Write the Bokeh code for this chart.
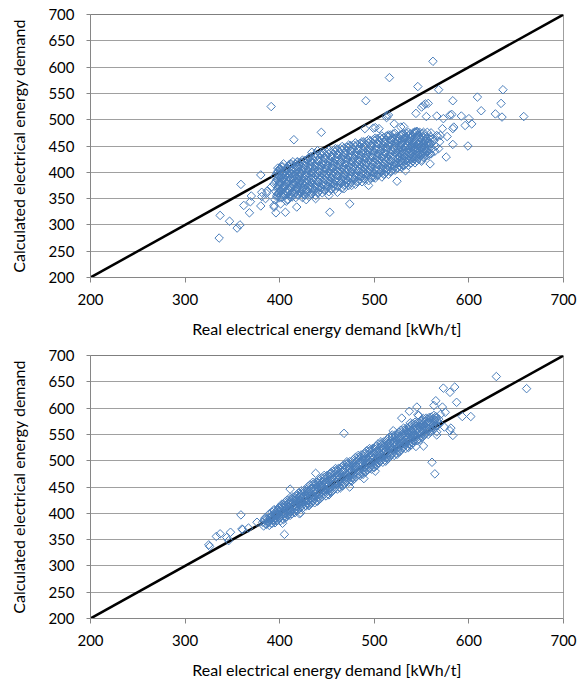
import math
from bokeh.plotting import figure
from bokeh.layouts import column
from bokeh.models import Range1d, FixedTicker, Span
from bokeh.embed import file_html
from bokeh.resources import INLINE

x_ticks = [200, 300, 400, 500, 600, 700]
y_ticks = [200, 250, 300, 350, 400, 450, 500, 550, 600, 650, 700]
identity_line = [200, 700]
x_title = "Real electrical energy demand [kWh/t]"
y_title = "Calculated electrical energy demand"

# ---------- upper panel: dense core ----------
top_core_x = [
    395, 397, 396, 398, 394, 397, 395, 398,
    400, 399, 401, 398, 400, 401, 399, 400,
    402, 404, 403, 405, 402, 404, 403, 401,
    406, 407, 405, 408, 407, 406, 405, 408,
    409, 411, 410, 412, 409, 410, 411, 409,
    413, 414, 412, 415, 414, 413, 415, 412,
    417, 416, 418, 417, 419, 416, 418, 417,
    420, 421, 419, 422, 420, 421, 419, 422,
    424, 423, 425, 424, 426, 423, 425, 424,
    427, 428, 426, 429, 427, 428, 426, 429,
    431, 430, 432, 431, 433, 430, 432, 431,
    434, 435, 433, 436, 434, 435, 433, 436,
    438, 437, 439, 438, 440, 437, 439, 438,
    441, 442, 440, 443, 441, 442, 440, 443,
    445, 444, 446, 445, 447, 444, 446, 445,
    448, 449, 447, 450, 448, 449, 447, 450,
    452, 451, 453, 452, 454, 451, 453, 452,
    455, 456, 454, 457, 455, 456, 454, 457,
    459, 458, 460, 459, 461, 458, 460, 459,
    462, 463, 461, 464, 462, 463, 461, 464,
    466, 465, 467, 466, 468, 465, 467, 466,
    469, 470, 468, 471, 469, 470, 468, 471,
    473, 472, 474, 473, 475, 472, 474, 473,
    476, 477, 475, 478, 476, 477, 475, 478,
    480, 479, 481, 480, 482, 479, 481, 480,
    483, 484, 482, 485, 483, 484, 482, 485,
    487, 486, 488, 487, 489, 486, 488, 487,
    490, 491, 489, 492, 490, 491, 489, 492,
    494, 493, 495, 494, 496, 493, 495, 494,
    497, 498, 496, 499, 497, 498, 496, 499,
    501, 500, 502, 501, 503, 500, 502, 501,
    504, 505, 503, 506, 504, 505, 503, 506,
    508, 507, 509, 508, 510, 507, 509, 508,
    511, 512, 510, 513, 511, 512, 510, 513,
    515, 514, 516, 515, 517, 514, 516, 515,
    518, 519, 517, 520, 518, 519, 517, 520,
    522, 521, 523, 522, 524, 521, 523, 522,
    525, 526, 524, 527, 525, 526, 524, 527,
    529, 528, 530, 529, 531, 528, 530, 529,
    532, 533, 531, 534, 532, 533, 531, 534,
    536, 535, 537, 536, 538, 535, 537, 536,
    539, 540, 538, 541, 539, 540, 538, 541,
    543, 542, 544, 543, 545, 542, 544, 543,
    546, 547, 545, 548, 546, 547, 545, 548,
    550, 549, 551, 550, 552, 549, 551,
    553, 554, 552, 555, 553, 554, 552,
    557, 556, 558, 557, 559, 556,
    560, 561, 559, 562, 560,
    564, 565, 563, 566,
    568, 569, 567,
]
top_core_y = [
    348, 356, 363, 371, 378, 386, 393, 402,
    352, 360, 367, 375, 382, 390, 397, 406,
    352, 359, 367, 374, 382, 389, 397, 406,
    356, 364, 371, 379, 386, 394, 401, 409,
    348, 357, 365, 374, 383, 392, 400, 411,
    353, 362, 371, 379, 388, 397, 406, 416,
    352, 361, 370, 379, 387, 396, 405, 415,
    357, 366, 374, 383, 392, 401, 410, 419,
    352, 361, 370, 379, 389, 398, 407, 418,
    357, 367, 376, 385, 394, 404, 413, 424,
    354, 364, 374, 384, 394, 404, 414, 426,
    360, 370, 380, 390, 400, 410, 420, 431,
    356, 366, 376, 386, 396, 406, 416, 428,
    362, 372, 382, 392, 402, 412, 422, 434,
    361, 371, 381, 391, 401, 411, 421, 433,
    367, 377, 387, 397, 407, 417, 427, 438,
    363, 373, 383, 393, 403, 413, 423, 435,
    369, 379, 389, 399, 409, 419, 429, 441,
    368, 378, 388, 398, 408, 418, 428, 440,
    374, 384, 394, 404, 414, 424, 434, 445,
    370, 380, 390, 400, 410, 420, 430, 442,
    376, 386, 396, 406, 416, 426, 436, 448,
    375, 385, 395, 405, 415, 425, 435, 447,
    381, 391, 401, 411, 421, 431, 441, 452,
    377, 387, 397, 407, 417, 427, 437, 449,
    383, 393, 403, 413, 423, 433, 443, 455,
    382, 392, 402, 412, 422, 432, 442, 454,
    388, 398, 408, 418, 428, 438, 448, 459,
    384, 394, 404, 414, 424, 434, 444, 456,
    390, 400, 410, 420, 430, 440, 450, 462,
    389, 399, 409, 419, 429, 439, 449, 461,
    395, 405, 415, 425, 435, 445, 455, 466,
    391, 401, 411, 421, 431, 441, 451, 463,
    397, 407, 417, 427, 437, 447, 457, 469,
    396, 406, 416, 426, 436, 446, 456, 468,
    402, 412, 422, 432, 442, 452, 462, 473,
    404, 412, 421, 429, 438, 446, 455, 465,
    409, 418, 426, 435, 443, 452, 460, 470,
    409, 418, 426, 435, 443, 452, 460, 471,
    414, 422, 431, 439, 448, 456, 465, 474,
    413, 421, 429, 437, 445, 453, 461, 470,
    418, 426, 434, 442, 450, 458, 466, 475,
    418, 426, 434, 442, 450, 458, 466, 476,
    426, 433, 440, 447, 454, 461, 468, 476,
    424, 432, 440, 448, 456, 464, 474,
    428, 436, 444, 452, 460, 468, 476,
    432, 441, 450, 459, 468, 476,
    435, 445, 455, 465, 475,
    440, 450, 460, 470,
    445, 458, 468,
]

top_core2_x = [
    397, 399, 398, 400, 396, 399, 397, 400,
    402, 401, 403, 400, 402, 403, 401, 402,
    404, 406, 405, 407, 404, 406, 405, 403,
    408, 409, 407, 410, 409, 408, 407, 410,
    411, 413, 412, 414, 411, 412, 413, 411,
    415, 416, 414, 417, 416, 415, 417, 414,
    419, 418, 420, 419, 421, 418, 420, 419,
    422, 423, 421, 424, 422, 423, 421, 424,
    426, 425, 427, 426, 428, 425, 427, 426,
    429, 430, 428, 431, 429, 430, 428, 431,
    433, 432, 434, 433, 435, 432, 434, 433,
    436, 437, 435, 438, 436, 437, 435, 438,
    440, 439, 441, 440, 442, 439, 441, 440,
    443, 444, 442, 445, 443, 444, 442, 445,
    447, 446, 448, 447, 449, 446, 448, 447,
    450, 451, 449, 452, 450, 451, 449, 452,
    454, 453, 455, 454, 456, 453, 455, 454,
    457, 458, 456, 459, 457, 458, 456, 459,
    461, 460, 462, 461, 463, 460, 462, 461,
    464, 465, 463, 466, 464, 465, 463, 466,
    468, 467, 469, 468, 470, 467, 469, 468,
    471, 472, 470, 473, 471, 472, 470, 473,
    475, 474, 476, 475, 477, 474, 476, 475,
    478, 479, 477, 480, 478, 479, 477, 480,
    482, 481, 483, 482, 484, 481, 483, 482,
    485, 486, 484, 487, 485, 486, 484, 487,
    489, 488, 490, 489, 491, 488, 490, 489,
    492, 493, 491, 494, 492, 493, 491, 494,
    496, 495, 497, 496, 498, 495, 497, 496,
    499, 500, 498, 501, 499, 500, 498, 501,
    503, 502, 504, 503, 505, 502, 504, 503,
    506, 507, 505, 508, 506, 507, 505, 508,
    510, 509, 511, 510, 512, 509, 511, 510,
    513, 514, 512, 515, 513, 514, 512, 515,
    517, 516, 518, 517, 519, 516, 518, 517,
    520, 521, 519, 522, 520, 521, 519, 522,
    524, 523, 525, 524, 526, 523, 525, 524,
    527, 528, 526, 529, 527, 528, 526, 529,
    531, 530, 532, 531, 533, 530, 532, 531,
    534, 535, 533, 536, 534, 535, 533, 536,
    538, 537, 539, 538, 540, 537, 539, 538,
    541, 542, 540, 543, 541, 542, 540, 543,
    545, 544, 546, 545, 547, 544, 546, 545,
    548, 549, 547, 550, 548, 549, 547,
    552, 551, 553, 552, 554, 551,
    555, 556, 554, 557, 555,
    559, 558, 560, 559,
]
top_core2_y = [
    353, 361, 368, 376, 383, 391, 398, 407,
    357, 365, 372, 380, 387, 395, 402, 410,
    357, 364, 372, 379, 387, 394, 402, 411,
    361, 369, 376, 384, 391, 399, 406, 414,
    353, 362, 370, 379, 388, 397, 405, 416,
    358, 367, 376, 384, 393, 402, 411, 420,
    357, 366, 375, 384, 392, 401, 410, 420,
    362, 371, 379, 388, 397, 406, 415, 423,
    357, 366, 375, 384, 394, 403, 412, 422,
    362, 372, 381, 390, 399, 409, 418, 428,
    359, 369, 379, 389, 399, 409, 419, 430,
    365, 375, 385, 395, 405, 415, 425, 435,
    361, 371, 381, 391, 401, 411, 421, 432,
    367, 377, 387, 397, 407, 417, 427, 438,
    366, 376, 386, 396, 406, 416, 426, 437,
    372, 382, 392, 402, 412, 422, 432, 442,
    368, 378, 388, 398, 408, 418, 428, 439,
    374, 384, 394, 404, 414, 424, 434, 445,
    373, 383, 393, 403, 413, 423, 433, 444,
    379, 389, 399, 409, 419, 429, 439, 449,
    375, 385, 395, 405, 415, 425, 435, 446,
    381, 391, 401, 411, 421, 431, 441, 452,
    380, 390, 400, 410, 420, 430, 440, 451,
    386, 396, 406, 416, 426, 436, 446, 456,
    382, 392, 402, 412, 422, 432, 442, 453,
    388, 398, 408, 418, 428, 438, 448, 458,
    387, 397, 407, 417, 427, 437, 447, 458,
    393, 403, 413, 423, 433, 443, 453, 462,
    389, 399, 409, 419, 429, 439, 449, 460,
    395, 405, 415, 425, 435, 445, 455, 465,
    394, 404, 414, 424, 434, 444, 454, 464,
    400, 410, 420, 430, 440, 450, 460, 469,
    396, 406, 416, 426, 436, 446, 456, 466,
    402, 412, 422, 432, 442, 452, 462, 471,
    401, 411, 421, 431, 441, 451, 461, 471,
    407, 417, 427, 437, 447, 457, 466, 474,
    408, 416, 425, 433, 442, 450, 459, 468,
    413, 422, 430, 439, 447, 456, 464, 472,
    413, 422, 430, 439, 447, 456, 464, 473,
    418, 426, 435, 443, 452, 460, 468, 476,
    417, 425, 433, 441, 449, 457, 465, 473,
    422, 430, 438, 446, 454, 462, 470, 477,
    422, 430, 438, 446, 454, 462, 470, 478,
    429, 436, 443, 450, 457, 464, 471,
    428, 436, 444, 452, 460, 468,
    432, 440, 448, 456, 464,
    436, 445, 454, 463,
]

# ---------- upper panel: scattered points ----------
top_out_x = [
    391, 415, 380, 359, 337, 347, 336, 355, 358, 362,
    368, 370, 369, 380, 381, 386, 398, 404, 396, 406,
    418, 407, 394, 562, 516, 546, 568, 636, 491, 583,
    609, 634, 613, 628, 635, 658, 592, 600, 603, 596,
    599, 583, 576, 559, 550, 533, 524, 474, 453, 444,
    544, 550, 555, 554, 513, 515, 490, 499, 505, 572,
    583, 580, 566, 528, 531, 428, 438, 408, 401, 452,
    461, 468, 476, 494, 499, 381, 387, 385, 391, 434,
    418, 440, 557, 552, 573, 582, 584, 570, 577, 513,
    521, 501, 545, 394,
]
top_out_y = [
    525, 462, 395, 377, 318, 307, 275, 294, 300, 337,
    323, 355, 344, 336, 354, 360, 408, 416, 323, 324,
    334, 345, 337, 611, 580, 563, 557, 557, 536, 536,
    543, 531, 517, 511, 505, 506, 507, 502, 492, 489,
    450, 453, 429, 416, 421, 403, 383, 340, 324, 476,
    512, 524, 506, 530, 504, 509, 483, 484, 483, 483,
    483, 509, 507, 486, 487, 348, 350, 348, 340, 356,
    362, 369, 375, 375, 390, 362, 365, 350, 372, 438,
    419, 441, 531, 527, 502, 510, 486, 470, 468, 508,
    492, 485, 476, 334,
]

# ---------- lower panel: dense core ----------
bot_core_x = [
    383, 382, 384,
    386, 387, 385,
    389, 388, 390, 389,
    392, 393, 391, 392,
    395, 394, 396, 395, 394,
    398, 399, 397, 398, 399,
    401, 400, 402, 401, 402,
    404, 405, 403, 404, 405,
    407, 406, 408, 407, 406,
    410, 411, 409, 410, 411,
    413, 412, 414, 413, 414,
    416, 417, 415, 416, 417,
    419, 418, 420, 419, 418,
    422, 423, 421, 422, 423,
    425, 424, 426, 425, 426,
    428, 429, 427, 428, 429,
    431, 430, 432, 431, 430,
    434, 435, 433, 434, 435,
    437, 436, 438, 437, 438,
    440, 441, 439, 440, 441,
    443, 442, 444, 443, 442,
    446, 447, 445, 446, 447,
    449, 448, 450, 449, 450,
    452, 453, 451, 452, 453,
    455, 454, 456, 455, 454,
    458, 459, 457, 458, 459,
    461, 460, 462, 461, 462,
    464, 465, 463, 464, 465,
    467, 466, 468, 467, 466,
    470, 471, 469, 470, 471,
    473, 472, 474, 473, 474,
    476, 477, 475, 476, 477,
    479, 478, 480, 479, 478,
    482, 483, 481, 482, 483,
    485, 484, 486, 485, 486,
    488, 489, 487, 488, 489,
    491, 490, 492, 491, 490,
    494, 495, 493, 494, 495,
    497, 496, 498, 497, 498,
    500, 501, 499, 500, 501,
    503, 502, 504, 503, 502,
    506, 507, 505, 506, 507,
    509, 508, 510, 509, 510,
    512, 513, 511, 512, 513,
    515, 514, 516, 515, 514,
    518, 519, 517, 518, 519,
    521, 520, 522, 521, 522,
    524, 525, 523, 524, 525,
    527, 526, 528, 527, 526,
    530, 531, 529, 530, 531,
    533, 532, 534, 533, 534,
    536, 537, 535, 536, 537,
    539, 538, 540, 539, 538,
    542, 543, 541, 542, 543,
    545, 544, 546, 545, 546,
    548, 549, 547, 548, 549,
    551, 550, 552, 551, 550,
    554, 555, 553, 554, 555,
    557, 556, 558, 557, 558,
    560, 561, 559, 560,
    563, 562, 564, 563,
    566, 567, 565,
    569, 568, 570,
]
bot_core_y = [
    376, 383, 389,
    379, 386, 392,
    377, 384, 391, 399,
    381, 388, 395, 402,
    382, 388, 395, 401, 407,
    387, 394, 400, 406, 411,
    386, 392, 400, 407, 414,
    388, 395, 402, 409, 416,
    393, 400, 408, 415, 422,
    399, 406, 413, 420, 426,
    399, 405, 412, 420, 427,
    401, 408, 415, 422, 429,
    406, 413, 420, 428, 435,
    411, 419, 426, 433, 439,
    411, 418, 425, 432, 440,
    414, 420, 428, 435, 442,
    415, 424, 433, 442, 451,
    421, 430, 439, 448, 455,
    420, 428, 437, 446, 455,
    423, 431, 440, 449, 458,
    428, 437, 446, 455, 464,
    434, 443, 452, 461, 468,
    433, 441, 450, 459, 468,
    435, 443, 452, 461, 470,
    441, 450, 459, 468, 477,
    447, 456, 465, 474, 481,
    446, 454, 463, 472, 481,
    448, 456, 465, 474, 483,
    453, 462, 471, 480, 489,
    460, 469, 478, 487, 494,
    459, 467, 476, 485, 494,
    461, 469, 478, 487, 496,
    466, 475, 484, 493, 502,
    472, 481, 490, 499, 506,
    472, 480, 489, 498, 507,
    474, 482, 491, 500, 509,
    479, 488, 497, 506, 515,
    485, 494, 503, 512, 519,
    484, 492, 501, 510, 519,
    487, 495, 504, 513, 522,
    492, 501, 510, 519, 528,
    498, 507, 516, 525, 532,
    497, 505, 514, 523, 532,
    499, 507, 516, 525, 534,
    505, 514, 523, 532, 541,
    511, 520, 529, 538, 545,
    510, 518, 527, 536, 545,
    512, 520, 529, 538, 547,
    518, 527, 536, 545, 554,
    524, 533, 542, 551, 558,
    523, 531, 540, 549, 558,
    525, 533, 542, 551, 560,
    530, 539, 548, 557, 566,
    538, 546, 554, 562, 569,
    538, 545, 553, 561, 569,
    540, 547, 555, 563, 571,
    545, 553, 561, 569, 577,
    551, 559, 567, 575, 581,
    550, 558, 566, 574, 582,
    556, 565, 574, 583,
    560, 569, 577, 586,
    566, 575, 584,
    570, 579, 588,
]

bot_core2_x = [
    385, 384,
    388, 387,
    391, 390, 392,
    394, 393, 395, 394,
    397, 396, 398, 397,
    400, 399, 401, 400,
    403, 402, 404, 403, 402,
    406, 405, 407, 406, 405,
    409, 408, 410, 409, 408,
    412, 411, 413, 412, 411,
    415, 414, 416, 415, 414,
    418, 417, 419, 418, 417,
    421, 420, 422, 421, 420,
    424, 423, 425, 424, 423,
    427, 426, 428, 427, 426,
    430, 429, 431, 430, 429,
    433, 432, 434, 433, 432,
    436, 435, 437, 436, 435,
    439, 438, 440, 439, 438,
    442, 441, 443, 442, 441,
    445, 444, 446, 445, 444,
    448, 447, 449, 448, 447,
    451, 450, 452, 451, 450,
    454, 453, 455, 454, 453,
    457, 456, 458, 457, 456,
    460, 459, 461, 460, 459,
    463, 462, 464, 463, 462,
    466, 465, 467, 466, 465,
    469, 468, 470, 469, 468,
    472, 471, 473, 472, 471,
    475, 474, 476, 475, 474,
    478, 477, 479, 478, 477,
    481, 480, 482, 481, 480,
    484, 483, 485, 484, 483,
    487, 486, 488, 487, 486,
    490, 489, 491, 490, 489,
    493, 492, 494, 493, 492,
    496, 495, 497, 496, 495,
    499, 498, 500, 499, 498,
    502, 501, 503, 502, 501,
    505, 504, 506, 505, 504,
    508, 507, 509, 508, 507,
    511, 510, 512, 511, 510,
    514, 513, 515, 514, 513,
    517, 516, 518, 517, 516,
    520, 519, 521, 520, 519,
    523, 522, 524, 523, 522,
    526, 525, 527, 526, 525,
    529, 528, 530, 529, 528,
    532, 531, 533, 532, 531,
    535, 534, 536, 535, 534,
    538, 537, 539, 538, 537,
    541, 540, 542, 541, 540,
    544, 543, 545, 544, 543,
    547, 546, 548, 547, 546,
    550, 549, 551, 550, 549,
    553, 552, 554, 553, 552,
    556, 555, 557, 556,
    559, 558, 560, 559,
    562, 561, 563,
    565, 564, 566,
]
bot_core2_y = [
    380, 387,
    382, 390,
    381, 388, 395,
    385, 392, 399, 405,
    386, 392, 399, 405,
    391, 398, 404, 410,
    390, 396, 404, 411, 417,
    392, 399, 406, 413, 420,
    397, 404, 412, 419, 425,
    403, 410, 417, 424, 430,
    403, 409, 416, 424, 431,
    405, 412, 419, 426, 433,
    410, 417, 424, 432, 439,
    415, 423, 430, 437, 443,
    415, 422, 429, 436, 444,
    418, 424, 432, 439, 446,
    419, 428, 437, 446, 454,
    425, 434, 443, 452, 459,
    424, 432, 441, 450, 459,
    427, 435, 444, 453, 462,
    432, 441, 450, 459, 467,
    438, 447, 456, 465, 472,
    437, 445, 454, 463, 472,
    439, 447, 456, 465, 474,
    445, 454, 463, 472, 480,
    451, 460, 469, 478, 485,
    450, 458, 467, 476, 485,
    452, 460, 469, 478, 487,
    457, 466, 475, 484, 492,
    464, 473, 482, 491, 498,
    463, 471, 480, 489, 498,
    465, 473, 482, 491, 500,
    470, 479, 488, 497, 506,
    476, 485, 494, 503, 510,
    476, 484, 493, 502, 511,
    478, 486, 495, 504, 513,
    483, 492, 501, 510, 519,
    489, 498, 507, 516, 523,
    488, 496, 505, 514, 523,
    491, 499, 508, 517, 526,
    496, 505, 514, 523, 532,
    502, 511, 520, 529, 536,
    501, 509, 518, 527, 536,
    503, 511, 520, 529, 538,
    509, 518, 527, 536, 545,
    515, 524, 533, 542, 549,
    514, 522, 531, 540, 549,
    516, 524, 533, 542, 551,
    522, 531, 540, 549, 558,
    528, 537, 546, 555, 562,
    527, 535, 544, 553, 562,
    529, 537, 546, 555, 564,
    534, 543, 552, 561, 570,
    542, 550, 558, 566, 573,
    542, 549, 557, 565, 573,
    544, 551, 559, 567, 575,
    549, 557, 565, 573, 580,
    555, 563, 571, 579,
    554, 562, 570, 578,
    562, 571, 580,
    566, 574, 582,
]

# ---------- lower panel: scattered points ----------
bot_out_x = [
    326, 325, 333, 337, 348, 346, 344, 359, 361, 367,
    376, 405, 403, 411, 411, 421, 438, 422, 431, 489,
    474, 501, 453, 360, 629, 661, 573, 585, 580, 587,
    565, 572, 545, 537, 529, 547, 538, 593, 602, 575,
    581, 583, 566, 552, 544, 520, 468, 561, 564, 563,
    546, 574, 580, 566,
]
bot_out_y = [
    337, 340, 356, 361, 364, 348, 354, 397, 369, 372,
    383, 360, 381, 446, 396, 399, 476, 401, 415, 466,
    450, 480, 475, 370, 660, 637, 638, 640, 630, 611,
    614, 602, 602, 594, 581, 586, 572, 584, 584, 592,
    562, 548, 549, 528, 527, 557, 552, 497, 475, 605,
    587, 564, 557, 555,
]

FONT = "Lato"
BLUE = "#4a7ebb"
GREY = "#868686"


def pairs(xs, ys):
    n = min(len(xs), len(ys))
    return list(xs[:n]), list(ys[:n])


def panel(height, b_top, b_bottom, groups):
    p = figure(width=585, height=height,
               x_range=Range1d(200, 700), y_range=Range1d(200, 700),
               output_backend="svg", toolbar_location=None,
               min_border_left=90, min_border_right=22,
               min_border_top=b_top, min_border_bottom=b_bottom)
    p.outline_line_color = None
    p.background_fill_color = "white"
    p.border_fill_color = "white"
    p.xgrid.grid_line_color = None
    p.ygrid.grid_line_color = "#a0a0a0"
    p.ygrid.grid_line_width = 1
    p.xaxis.ticker = FixedTicker(ticks=x_ticks)
    p.yaxis.ticker = FixedTicker(ticks=y_ticks)
    for ax in (p.xaxis[0], p.yaxis[0]):
        ax.axis_line_color = GREY
        ax.major_tick_line_color = GREY
        ax.minor_tick_line_color = None
        ax.major_tick_in = 0
        ax.major_label_text_font = FONT
        ax.major_label_text_font_size = "15px"
        ax.major_label_text_color = "#000000"
        ax.axis_label_text_font = FONT
        ax.axis_label_text_font_size = "16px"
        ax.axis_label_text_font_style = "normal"
        ax.axis_label_text_color = "#000000"
    p.xaxis.major_tick_out = 5
    p.yaxis.major_tick_out = 4
    p.xaxis.major_label_standoff = 11
    p.yaxis.major_label_standoff = 12
    p.xaxis.axis_label = x_title
    p.yaxis.axis_label = y_title
    p.xaxis.axis_label_standoff = 11
    p.yaxis.axis_label_standoff = 17

    p.add_layout(Span(location=700, dimension="width", line_color="black", line_width=1))
    p.add_layout(Span(location=700, dimension="height", line_color="#404040", line_width=1))

    p.line(identity_line, identity_line, line_color="black", line_width=2.5)
    for xs, ys in groups:
        gx, gy = pairs(xs, ys)
        p.scatter(gx, gy, marker="square", angle=math.pi / 4, size=6,
                  fill_color=None, line_color=BLUE, line_width=1)
    return p


top = panel(340, 14, 63, [(top_core_x, top_core_y), (top_core2_x, top_core2_y),
                          (top_out_x, top_out_y)])
bottom = panel(344, 15, 66, [(bot_core_x, bot_core_y), (bot_core2_x, bot_core2_y),
                             (bot_out_x, bot_out_y)])

layout = column(top, bottom, spacing=0)
open("out.html", "w").write(file_html(layout, INLINE))
